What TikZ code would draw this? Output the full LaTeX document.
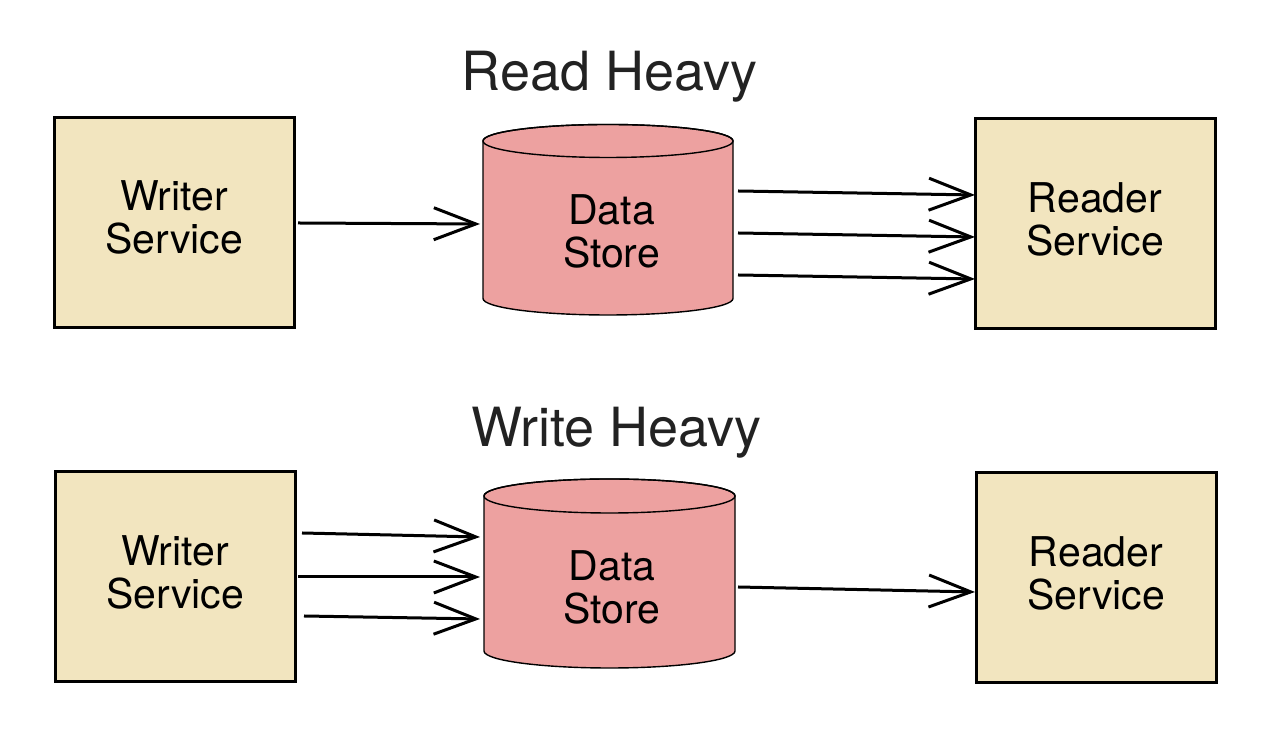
\documentclass[tikz,border=0pt]{standalone}
\usepackage{fontspec}
\setmainfont{TeX Gyre Heros}
\usetikzlibrary{arrows.meta}
\definecolor{boxfill}{HTML}{F2E5BF}
\definecolor{dbfill}{HTML}{EDA1A0}
\definecolor{titlecol}{HTML}{222222}
\tikzset{
  svcbox/.style={draw=black, line width=3pt, fill=boxfill, minimum width=240pt, minimum height=210pt, inner sep=0pt},
  lbl/.style={align=center, inner sep=0pt, font=\fontsize{41}{43}\selectfont, text=black},
  ttl/.style={anchor=base, inner sep=0pt, font=\fontsize{54}{60}\selectfont, text=titlecol},
  dbline/.style={draw=black, line width=1.4pt, fill=dbfill},
  flow/.style={line width=3pt, -{Straight Barb[length=42pt, width=32pt, line width=3pt]}}
}
\begin{document}
\begin{tikzpicture}[x=1pt, y=1pt]
\useasboundingbox (0,0) rectangle (1280,743);

% Titles
\node[ttl] (t1) at (609.5,652) {Read Heavy};
\node[ttl] (t2) at (616.5,296) {Write Heavy};

% Top row boxes
\node[svcbox] (w1) at (174,520) {};
\node[lbl] (w1t) at (174,525.5) {Writer\\Service};
\node[svcbox] (r1) at (1095,519) {};
\node[lbl] (r1t) at (1095,524) {Reader\\Service};

% Bottom row boxes
\node[svcbox] (w2) at (175,166) {};
\node[lbl] (w2t) at (175,171) {Writer\\Service};
\node[svcbox] (r2) at (1096,165) {};
\node[lbl] (r2t) at (1096,170) {Reader\\Service};

% Top cylinder
\path[dbline] (483,602) -- (483,444.5) arc[start angle=180, end angle=360, x radius=125, y radius=16.5] -- (733,602) arc[start angle=0, end angle=180, x radius=125, y radius=16.5] -- cycle;
\draw[line width=1.4pt] (608,602) ellipse[x radius=125, y radius=16.5];
\node[lbl] (d1) at (611.5,511.5) {Data\\Store};

% Bottom cylinder
\path[dbline] (484,247) -- (484,92) arc[start angle=180, end angle=360, x radius=125.5, y radius=17] -- (735,247) arc[start angle=0, end angle=180, x radius=125.5, y radius=17] -- cycle;
\draw[line width=1.4pt] (609.5,247) ellipse[x radius=125.5, y radius=17];
\node[lbl] (d2) at (612,155.5) {Data\\Store};

% Connector end points
\coordinate (a1s) at (298,520); \coordinate (a1e) at (480,519);
\coordinate (b1s) at (738,552); \coordinate (b1e) at (975,548);
\coordinate (b2s) at (738,510); \coordinate (b2e) at (975,506);
\coordinate (b3s) at (738,468); \coordinate (b3e) at (975,464);
\coordinate (c1s) at (302,210); \coordinate (c1e) at (480,206);
\coordinate (c2s) at (298,166); \coordinate (c2e) at (480,166);
\coordinate (c3s) at (304,127); \coordinate (c3e) at (480,124);
\coordinate (e1s) at (738,156); \coordinate (e1e) at (975,151);

\draw[flow] (a1s) -- (a1e);
\draw[flow] (b1s) -- (b1e);
\draw[flow] (b2s) -- (b2e);
\draw[flow] (b3s) -- (b3e);
\draw[flow] (c1s) -- (c1e);
\draw[flow] (c2s) -- (c2e);
\draw[flow] (c3s) -- (c3e);
\draw[flow] (e1s) -- (e1e);
\end{tikzpicture}
\end{document}
